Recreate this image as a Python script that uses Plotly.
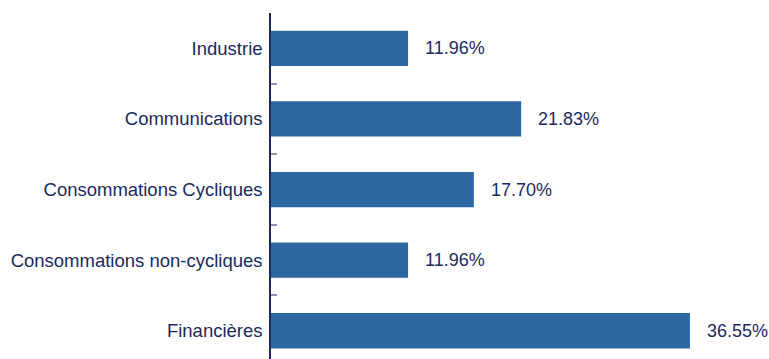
import plotly.graph_objects as go

# Sector weights, listed bottom to top
sectors = ["Financières", "Consommations non-cycliques", "Consommations Cycliques",
           "Communications", "Industrie"]
weights = [36.55, 11.96, 17.70, 21.83, 11.96]
labels = [f"{w:.2f}%" for w in weights]

bar_color = "#2D67A1"
text_color = "#1B2A5C"
font_family = "Liberation Sans, Arial, sans-serif"

fig = go.Figure(
    go.Bar(
        x=weights,
        y=sectors,
        orientation="h",
        marker=dict(color=bar_color, line=dict(width=0)),
        width=0.5,
        hoverinfo="skip",
    )
)

# Value labels to the right of each bar
for s, w, t in zip(sectors, weights, labels):
    fig.add_annotation(
        x=w, y=s, text=t, showarrow=False,
        xanchor="left", yanchor="middle", xshift=15,
        font=dict(family=font_family, size=18, color=text_color),
    )

fig.update_layout(
    width=769,
    height=359,
    margin=dict(l=271, r=0, t=13, b=0),
    paper_bgcolor="white",
    plot_bgcolor="white",
    showlegend=False,
    font=dict(family=font_family, size=18, color=text_color),
)

fig.update_xaxes(
    range=[0, 43.45],
    visible=False,
)

fig.update_yaxes(
    type="category",
    categoryorder="array",
    categoryarray=sectors,
    range=[-0.4, 4.5],
    showline=True,
    linecolor="#1B2A5C",
    linewidth=1.5,
    showgrid=False,
    zeroline=False,
    ticks="inside",
    tickson="boundaries",
    ticklen=6,
    tickcolor="#8C96B4",
    tickwidth=1.5,
    ticklabelstandoff=3,
    tickfont=dict(family=font_family, size=18.5, color=text_color),
)

fig.write_html("out.html")
